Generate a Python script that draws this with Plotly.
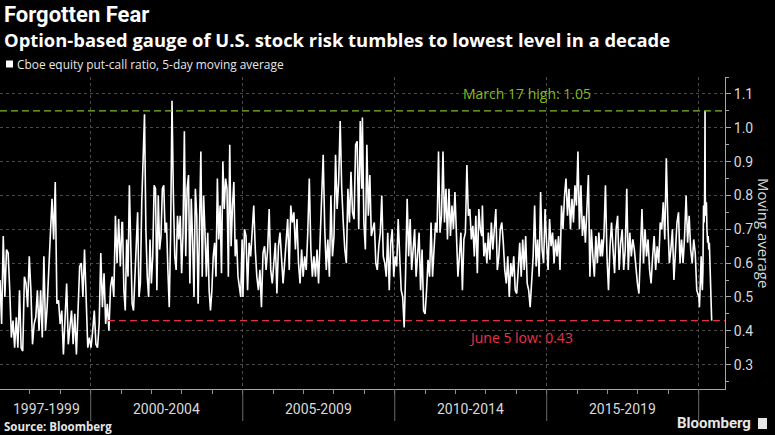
import pandas as pd
import plotly.graph_objects as go

# ---------------- data ----------------
vals_1997_2000 = [0.55,0.42,0.68,0.50,0.64,0.63,0.52,0.38,0.43,0.35,0.44,0.35,0.52,0.35,0.34,0.56,0.54,0.47,0.62,0.52,
                  0.36,0.42,0.44,0.52,0.40,0.52,0.38,0.62,0.40,0.47,0.58,0.69,0.79,0.67,0.84,0.48,0.49,0.42,0.46,0.33,
                  0.44,0.54,0.36,0.42,0.46,0.36,0.45,0.33,0.46,0.59,0.60,0.50,0.64,0.47,0.35,0.38,0.35,0.40,0.46,0.36,
                  0.35,0.42,0.63,0.47,0.57,0.42,0.48,0.40,0.53,0.56,0.50,0.74,0.60,0.73,0.59,0.72]
vals_2001_2004 = [0.72,0.52,0.46,0.67,0.56,0.83,0.62,0.48,0.46,0.55,0.68,0.75,0.50,0.54,0.78,0.89,1.04,0.70,0.56,0.50,
                  0.67,0.54,0.62,0.83,0.82,0.52,0.80,0.64,0.68,0.82,0.83,0.69,0.72,0.58,0.47,0.69,1.08,0.80,0.62,0.58,
                  0.74,0.67,0.74,0.57,0.69,0.99,0.62,0.82,0.86,0.54,0.79,0.67,0.50,0.82,0.74,0.48,0.67,0.93,0.56,0.80,
                  0.69,0.56,0.69,0.52,0.46,0.52,0.62,0.66,0.56,0.85,0.67,0.77,0.57,0.90,0.76,0.85,0.82,0.56,0.95,0.65,
                  0.77,0.84,0.62,0.67,0.56,0.52,0.50,0.67]
vals_2005_2008 = [0.50,0.70,0.68,0.52,0.66,0.62,0.70,0.77,0.64,0.56,0.52,0.58,0.47,0.63,0.65,0.58,0.64,0.76,0.58,0.54,
                  0.60,0.66,0.51,0.65,0.69,0.62,0.54,0.60,0.68,0.73,0.58,0.77,0.72,0.75,0.64,0.73,0.60,0.54,0.64,0.56,
                  0.62,0.58,0.69,0.85,0.64,0.56,0.62,0.56,0.64,0.54,0.67,0.79,0.92,0.70,0.58,0.67,0.56,0.80,0.62,0.68,
                  0.92,0.76,0.84,1.02,0.82,0.72,0.64,0.60,0.82,0.72,0.87,0.75,0.73,0.95,0.96,0.70,1.02,0.82]
vals_2009_2012 = [1.03,0.72,0.64,0.95,0.74,0.86,0.68,0.70,0.72,0.60,0.58,0.65,0.69,0.80,0.62,0.60,0.56,0.69,0.52,0.66,
                  0.70,0.56,0.62,0.59,0.73,0.62,0.52,0.50,0.41,0.58,0.79,0.62,0.73,0.58,0.64,0.70,0.56,0.62,0.69,0.52,
                  0.64,0.46,0.45,0.52,0.61,0.56,0.72,0.56,0.64,0.72,0.69,0.93,0.69,0.74,0.93,0.72,0.82,0.67,0.82,0.68,
                  0.77,0.70,0.81,0.65,0.56,0.62,0.69,0.52,0.67,0.69,0.89,0.74,0.76,0.67,0.71,0.62,0.74,0.57,0.76,0.70,0.68]
vals_2013_2016 = [0.77,0.62,0.66,0.60,0.69,0.61,0.72,0.64,0.70,0.76,0.58,0.62,0.70,0.72,0.66,0.58,0.54,0.62,0.50,0.60,
                  0.56,0.62,0.52,0.51,0.58,0.66,0.56,0.67,0.58,0.68,0.54,0.52,0.47,0.56,0.62,0.77,0.59,0.67,0.56,0.81,
                  0.64,0.60,0.76,0.66,0.58,0.73,0.65,0.69,0.60,0.67,0.62,0.68,0.58,0.77,0.70,0.80,0.85,0.74,0.82,0.70,
                  0.79,0.72,0.83,0.77,0.93,0.70,0.83,0.68,0.74,0.66,0.78,0.86,0.56,0.70,0.62,0.56,0.68,0.60,0.69,0.62,0.67]
vals_2017_2019 = [0.62,0.68,0.83,0.62,0.52,0.65,0.72,0.64,0.57,0.70,0.74,0.58,0.66,0.70,0.58,0.64,0.82,0.58,0.69,0.62,
                  0.67,0.64,0.58,0.54,0.51,0.62,0.76,0.60,0.70,0.62,0.67,0.58,0.54,0.62,0.68,0.58,0.65,0.60,0.72,0.70,
                  0.78,0.67,0.91,0.72,0.60,0.64,0.70,0.55,0.65,0.72,0.75,0.60,0.67,0.60,0.68,0.80,0.66,0.74,0.64,0.60,
                  0.67,0.63,0.52,0.50]
dates_2020 = ["2020-01-03","2020-01-10","2020-01-17","2020-01-24","2020-01-31","2020-02-07","2020-02-14","2020-02-21",
              "2020-02-28","2020-03-06","2020-03-12","2020-03-17","2020-03-20","2020-03-27","2020-04-03","2020-04-09",
              "2020-04-17","2020-04-24","2020-05-01","2020-05-08","2020-05-15","2020-05-22","2020-05-29","2020-06-05"]
vals_2020 = [0.50,0.47,0.52,0.58,0.62,0.55,0.52,0.58,0.77,0.72,0.79,1.05,0.80,0.74,0.78,0.70,0.66,0.68,0.64,0.66,
             0.60,0.57,0.55,0.43]

segments = [
    ("1997-01-06", "2001-01-10", vals_1997_2000),
    ("2001-01-17", "2004-12-24", vals_2001_2004),
    ("2005-01-03", "2008-12-01", vals_2005_2008),
    ("2008-12-08", "2012-11-12", vals_2009_2012),
    ("2012-11-19", "2016-10-24", vals_2013_2016),
    ("2016-10-31", "2019-12-27", vals_2017_2019),
]

high_value, high_label = 1.05, "March 17 high: 1.05"
low_value, low_label = 0.43, "June 5 low: 0.43"
period_bounds = ["2000-01-01", "2005-01-01", "2010-01-01", "2015-01-01", "2020-01-01"]
period_labels = ["1997-1999", "2000-2004", "2005-2009", "2010-2014", "2015-2019"]
period_centers = ["1998-07-20", "2002-07-02", "2007-07-02", "2012-07-02", "2017-07-02"]
year_ticks = [f"{y}-01-01" for y in range(1998, 2021)]
y_ticks = [0.3, 0.4, 0.5, 0.6, 0.7, 0.8, 0.9, 1.0, 1.1]

# ---------------- build series ----------------
xs, ys = [], []
for start, end, vals in segments:
    xs += list(pd.date_range(start, end, periods=len(vals)))
    ys += vals
xs += list(pd.to_datetime(dates_2020))
ys += vals_2020

W, H = 775, 435
L, R, T, B = 0, 50, 77, 46
PW, PH = W - L - R, H - T - B

def px(p):
    return (p - L) / PW

def py(p):
    return (H - B - p) / PH

FONT = "Roboto"
FONT2 = "Open Sans"
XSTART, XEND = "1997-01-06", "2020-11-12"

fig = go.Figure()
fig.add_trace(go.Scatter(x=xs, y=ys, mode="lines",
                         line=dict(color="#ffffff", width=1.6),
                         hoverinfo="skip", showlegend=False))

shapes = [
    dict(type="line", xref="x", yref="y", x0=XSTART, x1=XEND, y0=high_value, y1=high_value,
         line=dict(color="#80b82a", width=1.3, dash="7px,4px"), layer="above"),
    dict(type="line", xref="x", yref="y", x0="2000-07-26", x1=XEND, y0=low_value, y1=low_value,
         line=dict(color="#e0314b", width=1.3, dash="7px,4px"), layer="above"),
    # legend square
    dict(type="rect", xref="paper", yref="paper", x0=px(6), x1=px(13), y0=py(67.5), y1=py(60.5),
         fillcolor="#ffffff", line=dict(width=0)),
    # Bloomberg logo glyph
    dict(type="rect", xref="paper", yref="paper", x0=px(758), x1=px(767), y0=py(429), y1=py(418),
         fillcolor="#e6e6e6", line=dict(width=0)),
]
for b in period_bounds:
    shapes.append(dict(type="line", xref="x", yref="paper", x0=b, x1=b, y0=0, y1=py(421),
                       line=dict(color="#6b6b6b", width=1)))

annotations = [
    dict(text="<b>Forgotten Fear</b>", x=px(2), y=py(14), xref="paper", yref="paper",
         xanchor="left", yanchor="middle", showarrow=False, font=dict(family=FONT, size=22, color="#ffffff")),
    dict(text="<b>Option-based gauge of U.S. stock risk tumbles to lowest level in a decade</b>",
         x=px(2), y=py(39), xref="paper", yref="paper", xanchor="left", yanchor="middle",
         showarrow=False, font=dict(family=FONT2, size=18.4, color="#ffffff")),
    dict(text="Cboe equity put-call ratio, 5-day moving average", x=px(15), y=py(64), xref="paper", yref="paper",
         xanchor="left", yanchor="middle", showarrow=False, font=dict(family=FONT2, size=11.9, color="#e6e6e6")),
    dict(text=high_label, x=px(527), y=py(93), xref="paper", yref="paper", xanchor="center", yanchor="middle",
         showarrow=False, font=dict(family=FONT2, size=14, color="#86bc25")),
    dict(text=low_label, x=px(521), y=py(337), xref="paper", yref="paper", xanchor="center", yanchor="middle",
         showarrow=False, font=dict(family=FONT2, size=14, color="#e8324f")),
    dict(text="Moving average", x=px(764), y=0.5, xref="paper", yref="paper", xanchor="center", yanchor="middle",
         textangle=90, showarrow=False, font=dict(family=FONT2, size=15, color="#d9d9d9")),
    dict(text="<b>Source: Bloomberg</b>", x=px(2), y=py(426), xref="paper", yref="paper",
         xanchor="left", yanchor="middle", showarrow=False, font=dict(family=FONT2, size=11.5, color="#e6e6e6")),
    dict(text="<b>Bloomberg</b>", x=px(753), y=py(423), xref="paper", yref="paper",
         xanchor="right", yanchor="middle", showarrow=False, font=dict(family=FONT, size=15, color="#e6e6e6")),
]
for c, lab in zip(period_centers, period_labels):
    annotations.append(dict(text=lab, x=c, y=py(409), xref="x", yref="paper", xanchor="center",
                            yanchor="middle", showarrow=False, font=dict(family=FONT, size=14, color="#d9d9d9")))

fig.update_layout(
    width=W, height=H, margin=dict(l=L, r=R, t=T, b=B),
    paper_bgcolor="#000000", plot_bgcolor="#000000",
    showlegend=False, shapes=shapes, annotations=annotations,
    xaxis=dict(type="date", range=[XSTART, XEND], tickvals=period_bounds, showticklabels=False,
               ticks="", showgrid=True, gridcolor="#4a4a4a", griddash="dot", gridwidth=1,
               showline=True, linecolor="#a6a6a6", linewidth=1, zeroline=False,
               minor=dict(tickvals=year_ticks, ticks="outside", ticklen=4, tickcolor="#8c8c8c",
                          tickwidth=1, showgrid=False)),
    yaxis=dict(side="right", range=[0.228, 1.15], tickvals=y_ticks, tickformat=".1f",
               ticks="outside", ticklen=5, tickcolor="#a6a6a6", tickwidth=1,
               showgrid=True, gridcolor="#4a4a4a", griddash="dot", gridwidth=1,
               showline=True, linecolor="#a6a6a6", linewidth=1, zeroline=False,
               tickfont=dict(family=FONT, size=14, color="#d9d9d9"),
               minor=dict(dtick=0.05, tick0=0.25, ticks="outside", ticklen=3, tickcolor="#a6a6a6",
                          showgrid=False)),
)

fig.write_html("out.html", config={"displayModeBar": False},
               post_script="document.body.style.margin='0';document.body.style.padding='0';")
